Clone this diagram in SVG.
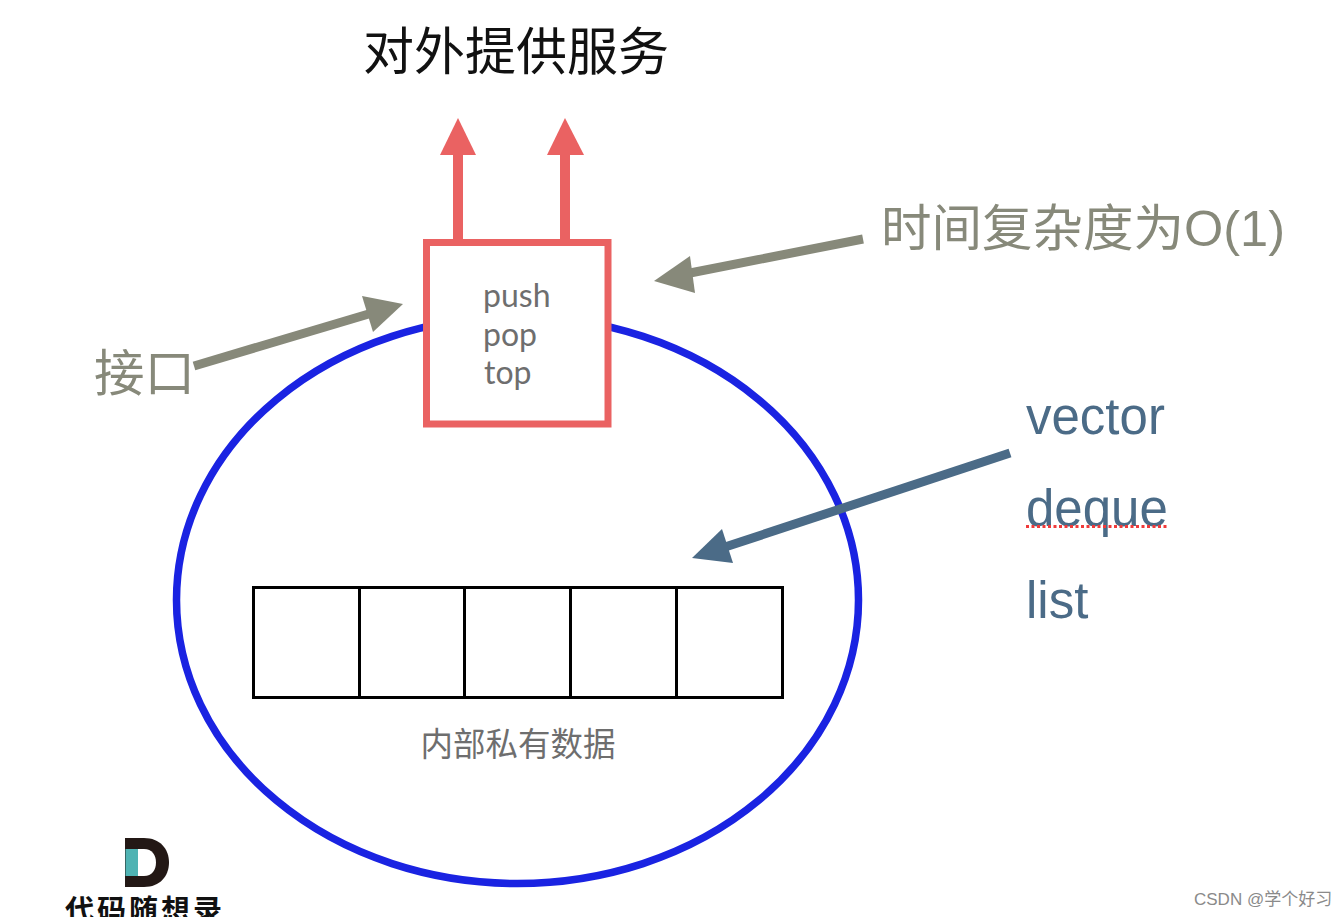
<svg xmlns="http://www.w3.org/2000/svg" width="1344" height="917" viewBox="0 0 1344 917">
<style>
text{font-family:"Liberation Sans","Noto Sans CJK SC",sans-serif}
.cjk{font-family:"Noto Sans CJK SC",sans-serif}
.gray{fill:#87897a;font-size:50.500px}
.blue{fill:#4b6b87;font-size:51px}
.op{fill:#6e6e6e;font-size:32px;font-family:Lato,"Noto Sans",sans-serif}
.cell{fill:none;stroke:#000;stroke-width:3}
</style>
<rect width="1344" height="917" fill="#fff"/>
<g id="heap"><ellipse cx="517.500" cy="600" rx="341" ry="283.500" fill="none" stroke="#1a23e2" stroke-width="7.500"/></g>
<g id="connectors">
<path d="M458 242V150" stroke="#ea6262" stroke-width="10" fill="none"/>
<path d="M565 242V150" stroke="#ea6262" stroke-width="10" fill="none"/>
<polygon points="458,118 476,155 440,155" fill="#ea6262"/>
<polygon points="565,118 584,155 547,155" fill="#ea6262"/>
<path d="M863 239L685 274" stroke="#87897a" stroke-width="9" fill="none"/>
<polygon points="654,281 690,256 695,293" fill="#87897a"/>
<path d="M194 366L372 313" stroke="#87897a" stroke-width="9" fill="none"/>
<polygon points="403,304 362,296 373,332" fill="#87897a"/>
<path d="M1010 453L722 548" stroke="#4b6b87" stroke-width="9" fill="none"/>
<polygon points="692,558 722,529 733,563" fill="#4b6b87"/>
</g>
<g id="interface"><rect x="426.500" y="242.500" width="181.500" height="181.500" fill="#fff" stroke="#ea6262" stroke-width="7"/>
<text class="op" x="483" y="307">push</text><text class="op" x="483" y="346">pop</text><text class="op" x="484" y="384">top</text></g>
<g id="array">
<rect class="cell" x="253.500" y="587.500" width="106" height="110"/>
<rect class="cell" x="359.500" y="587.500" width="105" height="110"/>
<rect class="cell" x="464.500" y="587.500" width="106" height="110"/>
<rect class="cell" x="570.500" y="587.500" width="106" height="110"/>
<rect class="cell" x="676.500" y="587.500" width="106" height="110"/>
</g>
<g id="labels">
<text class="cjk" x="516" y="69.500" font-size="51" text-anchor="middle" fill="#111">对外提供服务</text>
<text class="gray" x="881" y="246">时间复杂度为O(1)</text>
<text class="gray" x="94" y="391">接口</text>
<text class="blue" x="1026" y="434">vector</text>
<text class="blue" x="1026" y="526">deque</text>
<text class="blue" x="1026" y="618">list</text>
<path d="M1026 526.500H1168" stroke="#f03a3a" stroke-width="3" stroke-dasharray="3 2.500" fill="none"/>
<text class="cjk" x="518" y="756" font-size="32.500" text-anchor="middle" fill="#6e6e6e">内部私有数据</text>
</g>
<g id="logo">
<path d="M125 838H144C160 838 169 849 169 862.500C169 876 160 887 144 887H125Z" fill="#231815"/>
<path d="M138 849H144C152 849 156 855 156 862.500C156 870 152 876 144 876H138Z" fill="#fff"/>
<rect x="125.500" y="849" width="12.500" height="27" fill="#4fb3b3"/>
<text x="145" y="921" font-size="29" letter-spacing="3" text-anchor="middle" fill="#111" font-weight="bold" style="font-family:'Noto Sans CJK SC',sans-serif">代码随想录</text>
</g>
<g id="watermark"><text x="1194" y="905" font-size="17" fill="#8a8a8a">CSDN @学个好习</text></g>
</svg>
